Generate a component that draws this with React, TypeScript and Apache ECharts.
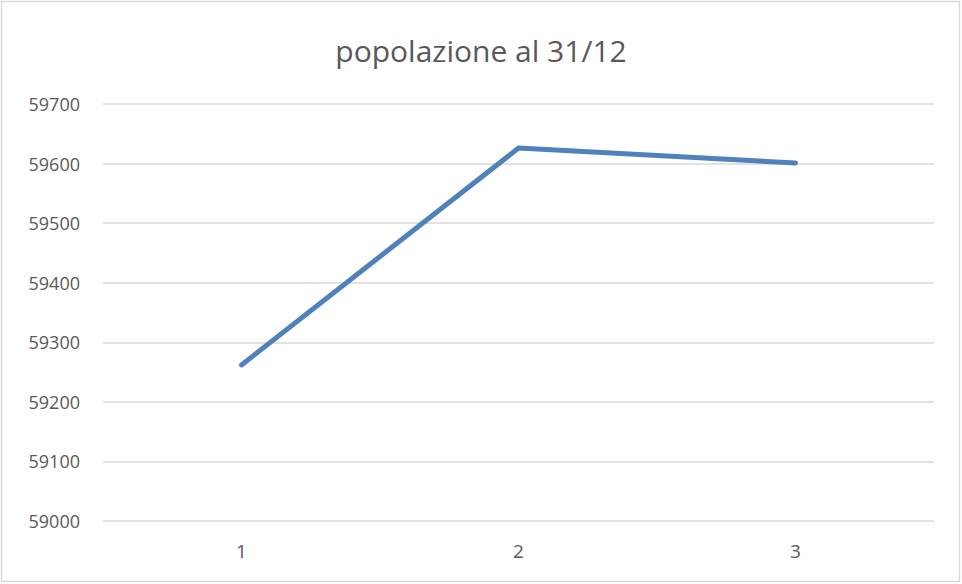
import React, { useEffect, useRef } from "react";
import * as echarts from "echarts";

const categories = ["1", "2", "3"];
const popolazione = [59262, 59626, 59601];
const titleText = "popolazione al 31/12";

export default function App() {
  const ref = useRef<HTMLDivElement>(null);
  useEffect(() => {
    if (!ref.current) return;
    const chart = echarts.init(ref.current, null, { renderer: "svg" });
    chart.setOption({
      animation: false,
      backgroundColor: "#ffffff",
      title: {
        text: titleText,
        left: "center",
        top: 30,
        textStyle: {
          fontFamily: "Open Sans",
          fontSize: 30,
          fontWeight: "normal",
          color: "#595959",
        },
      },
      graphic: [
        {
          type: "rect",
          shape: { x: 1.5, y: 1.5, width: 958, height: 580 },
          style: { fill: "none", stroke: "#d9d9d9", lineWidth: 1.5 },
          silent: true,
        },
      ],
      grid: { left: 103, right: 28, top: 104, bottom: 63, containLabel: false },
      xAxis: {
        type: "category",
        data: categories,
        boundaryGap: true,
        axisLine: { show: false },
        axisTick: { show: false },
        axisLabel: {
          margin: 20,
          fontFamily: "Open Sans",
          fontSize: 19,
          color: "#595959",
        },
      },
      yAxis: {
        type: "value",
        min: 59000,
        max: 59700,
        interval: 100,
        axisLine: { show: false },
        axisTick: { show: false },
        axisLabel: {
          margin: 23,
          fontFamily: "Open Sans",
          fontSize: 18,
          color: "#595959",
          formatter: (v: number) => String(v),
        },
        splitLine: { lineStyle: { color: "#d9d9d9", width: 1.5 } },
      },
      series: [
        {
          type: "line",
          data: popolazione,
          symbol: "none",
          lineStyle: { color: "#4f81bd", width: 5, cap: "round", join: "round" },
        },
      ],
    });
    return () => chart.dispose();
  }, []);
  return (
    <div
      ref={ref}
      style={{ position: "fixed", left: 0, top: 0, width: 962, height: 584 }}
    />
  );
}
